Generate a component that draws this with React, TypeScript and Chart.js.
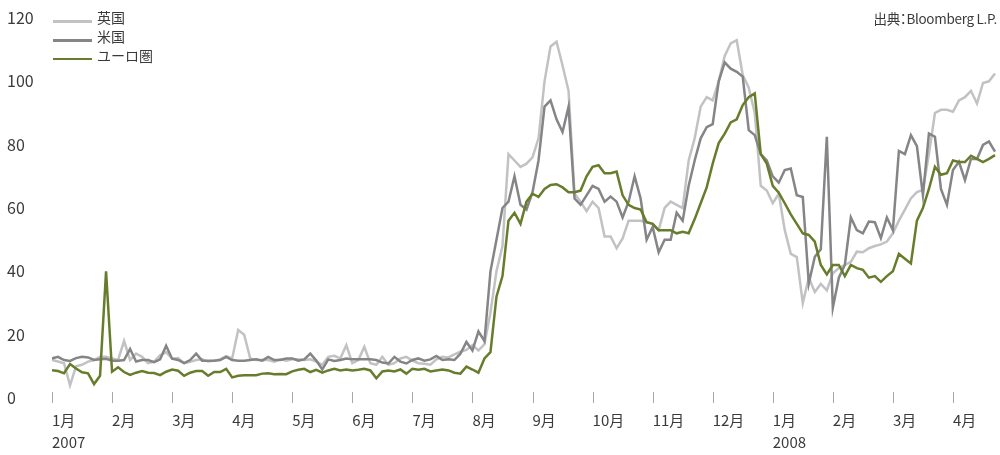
import React, { useEffect, useRef } from "react";
import { Chart, registerables } from "chart.js";

Chart.register(...registerables);

// x positions: 10 samples per month, month 0 = Jan 2007
const STEPS_PER_MONTH = 10;

const monthLabels: (string | string[])[] = [
  ["1月", "2007"], "2月", "3月", "4月", "5月", "6月", "7月", "8月", "9月", "10月", "11月", "12月",
  ["1月", "2008"], "2月", "3月", "4月",
];

const yTickValues = [0, 20, 40, 60, 80, 100, 120];

const seriesNames = ["英国", "米国", "ユーロ圏"];

const ukValues = [
  12, 11.5, 11, 4, 10, 10.5, 11.5, 12, 13, 13,
  12.5, 12, 18, 12, 14, 13, 11, 11.5, 13.5, 14.5,
  12.4, 12.6, 11, 11.4, 12, 12.2, 11.5, 11.8, 12.2, 13.2,
  12.5, 21.5, 20, 12.5, 12, 12, 12, 11.5, 12.2, 11.8,
  12.2, 12.2, 12, 12.2, 11.5, 10.5, 13, 13.3, 12.5, 16.7,
  11, 12, 16.2, 11, 10.5, 13, 10.5, 11, 12.5, 13,
  11.8, 11, 10.8, 10.5, 12.2, 13, 12.8, 13.8, 14.6, 15.2,
  16.7, 15, 17, 27, 40, 48, 77, 75, 73, 74,
  76, 82, 100, 111, 112.5, 105, 97, 64.5, 62, 59,
  62, 60, 51, 51, 47.3, 50.4, 56, 56, 56, 55.5,
  55, 53, 60, 62, 61, 60, 75, 82, 92, 95,
  94, 100, 108, 112, 113, 102, 98, 90, 67, 65.5,
  61.5, 64.5, 53, 45.5, 44.5, 30, 38, 33.5, 36, 34,
  39.4, 41, 42, 43, 46.2, 46, 47.3, 48, 48.5, 49.4,
  52, 56, 59.5, 63, 65, 65.7, 77, 90, 91, 91,
  90.4, 94, 95, 97, 93, 99.5, 100, 102.5,
];

const usValues = [
  12.5, 13, 12, 11.7, 12.6, 13, 12.8, 12, 12.2, 12.4,
  11.8, 11.8, 12, 15.5, 11.5, 12, 12, 11.3, 12.2, 16.5,
  12.4, 12, 11, 12, 14, 11.8, 11.8, 11.8, 12, 13,
  12, 11.8, 11.8, 12, 12.2, 11.8, 13, 12, 12, 12.5,
  12.5, 11.8, 12.2, 14, 11.8, 9, 12.2, 11.7, 12, 12.5,
  12.2, 12.2, 12.2, 12.2, 12, 11.2, 10.9, 13, 11.5, 10.9,
  12, 12.5, 11.8, 12.2, 13.3, 12, 12.2, 12, 14, 17.7,
  15, 21, 18, 40, 50, 60, 62, 70, 61, 59.5,
  65, 75, 92, 94, 88, 84, 92, 63, 61, 64,
  67, 66, 62, 63.6, 62, 57, 62, 70, 63, 50,
  54, 46, 50, 50, 58.5, 56, 67, 75, 82, 85.5,
  86.5, 100, 106, 104, 103, 101.5, 84.6, 83, 77, 75,
  70, 68, 72, 72.5, 64, 63.5, 36.2, 44.6, 47, 82.5,
  28.5, 38, 42, 57, 53, 52, 55.7, 55.5, 50.5, 57,
  53, 78, 77, 83, 79.5, 64, 83.5, 82.5, 66, 61,
  72, 74.6, 68.8, 75.5, 75.5, 79.9, 81, 77.8,
];

const euroValues = [
  8.8, 8.5, 7.8, 10.7, 9.3, 8.1, 7.8, 4.4, 7, 40,
  8.3, 9.7, 8.2, 7.3, 8, 8.5, 8, 7.9, 7.2, 8.3,
  9, 8.6, 7, 8, 8.5, 8.5, 7, 8.2, 8.2, 9.2,
  6.5, 7, 7.2, 7.2, 7.2, 7.7, 7.8, 7.5, 7.6, 7.5,
  8.4, 8.9, 9.2, 8.2, 8.9, 8, 8.7, 9.2, 8.7, 9,
  8.7, 8.9, 9.2, 8.7, 6.2, 8.4, 8.7, 8.4, 9, 7.7,
  9.2, 8.9, 9.2, 8.4, 8.7, 9, 8.7, 8, 7.7, 9.9,
  9, 8, 12.5, 14.5, 32, 38.5, 56, 58.5, 55, 62,
  64.5, 63.5, 66, 67.3, 67.5, 66.5, 65, 65, 65.5, 70,
  73, 73.5, 71, 71, 71.5, 64, 61, 60, 59.5, 55.5,
  55, 53, 53, 53, 52, 52.5, 52, 56.5, 61.5, 66.5,
  74, 80.5, 83.5, 87, 88, 92.5, 95, 96.2, 77, 74,
  67, 64.8, 61.5, 58, 55, 52, 51.5, 49.4, 42, 39,
  42, 42, 38.5, 42, 41, 40.5, 38, 38.5, 36.7, 38.5,
  40, 45.5, 44, 42.5, 56, 60, 66, 73, 70.5, 71,
  75, 74.5, 74.5, 76.5, 75.5, 74.5, 75.5, 76.7,
];

const COLORS = ["#c2c2c4", "#858588", "#677d2b"];
const FONT = '"Noto Sans CJK JP", "Noto Sans", sans-serif';
const TEXT = "#3a3a3a";

const toPoints = (vals: number[]) =>
  vals.map((v, i) => ({ x: i / STEPS_PER_MONTH, y: v }));

const tickMarks = {
  id: "tickMarks",
  afterDraw(chart: any) {
    const xs = chart.scales.x;
    const ys = chart.scales.y;
    const y0 = ys.getPixelForValue(0);
    const ctx = chart.ctx;
    ctx.save();
    ctx.strokeStyle = "#a8a8a8";
    ctx.lineWidth = 1;
    xs.ticks.forEach((t: any) => {
      const px = Math.round(xs.getPixelForValue(t.value)) + 0.5;
      ctx.beginPath();
      ctx.moveTo(px, y0 - 6);
      ctx.lineTo(px, y0 + 5);
      ctx.stroke();
    });
    ctx.restore();
  },
};

export default function App() {
  const ref = useRef<HTMLCanvasElement>(null);

  useEffect(() => {
    if (!ref.current) return;
    const allValues = [ukValues, usValues, euroValues];
    const chart = new Chart(ref.current, {
      type: "line",
      data: {
        datasets: allValues.map((vals, k) => ({
          label: seriesNames[k],
          data: toPoints(vals),
          borderColor: COLORS[k],
          backgroundColor: COLORS[k],
          borderWidth: 2.5,
          pointRadius: 0,
          tension: 0,
          order: 2 - k,
        })),
      },
      options: {
        animation: false,
        responsive: false,
        layout: { padding: { left: 7, right: 2, top: 18, bottom: 0 } },
        plugins: { legend: { display: false }, tooltip: { enabled: false } },
        scales: {
          x: {
            type: "linear",
            min: 0,
            max: 15.75,
            grid: { display: false },
            border: { display: false },
            afterBuildTicks: (s: any) => {
              s.ticks = monthLabels.map((_, i) => ({ value: i }));
            },
            afterFit: (s: any) => {
              s.height = 57;
            },
            ticks: {
              autoSkip: false,
              maxRotation: 0,
              align: "start",
              padding: 3,
              color: TEXT,
              font: { family: FONT, size: 15, lineHeight: 1.5 },
              callback: (v: any) => monthLabels[v as number],
            },
          },
          y: {
            min: 0,
            max: 120,
            grid: { display: false },
            border: { display: false },
            afterBuildTicks: (s: any) => {
              s.ticks = yTickValues.map((v) => ({ value: v }));
            },
            afterFit: (s: any) => {
              s.width = 45;
            },
            ticks: {
              crossAlign: "far",
              padding: 0,
              color: TEXT,
              font: { family: FONT, size: 16 },
            },
          },
        },
      } as any,
      plugins: [tickMarks],
    });
    return () => chart.destroy();
  }, []);

  const legendTop = [10, 29, 47.5];
  return (
    <div style={{ position: "absolute", left: 0, top: 0, width: 1000, height: 455, background: "#fff" }}>
      <canvas ref={ref} width={1000} height={455} style={{ display: "block" }} />
      {seriesNames.map((name, k) => (
        <div key={name} style={{ position: "absolute", left: 53, top: legendTop[k], height: 15, display: "flex", alignItems: "center" }}>
          <div style={{ width: 39, height: 2.5, background: COLORS[k], marginTop: 8 }} />
          <span style={{ marginLeft: 5, fontFamily: FONT, fontSize: 14, color: TEXT, lineHeight: "15px" }}>{name}</span>
        </div>
      ))}
      <div style={{ position: "absolute", right: 3, top: 9, fontFamily: FONT, fontSize: 13.5, color: TEXT, lineHeight: "18px", letterSpacing: -0.3 }}>
        出典<span style={{ marginLeft: -3.5, letterSpacing: -3.5 }}>：</span>Bloomberg L.P.
      </div>
    </div>
  );
}
